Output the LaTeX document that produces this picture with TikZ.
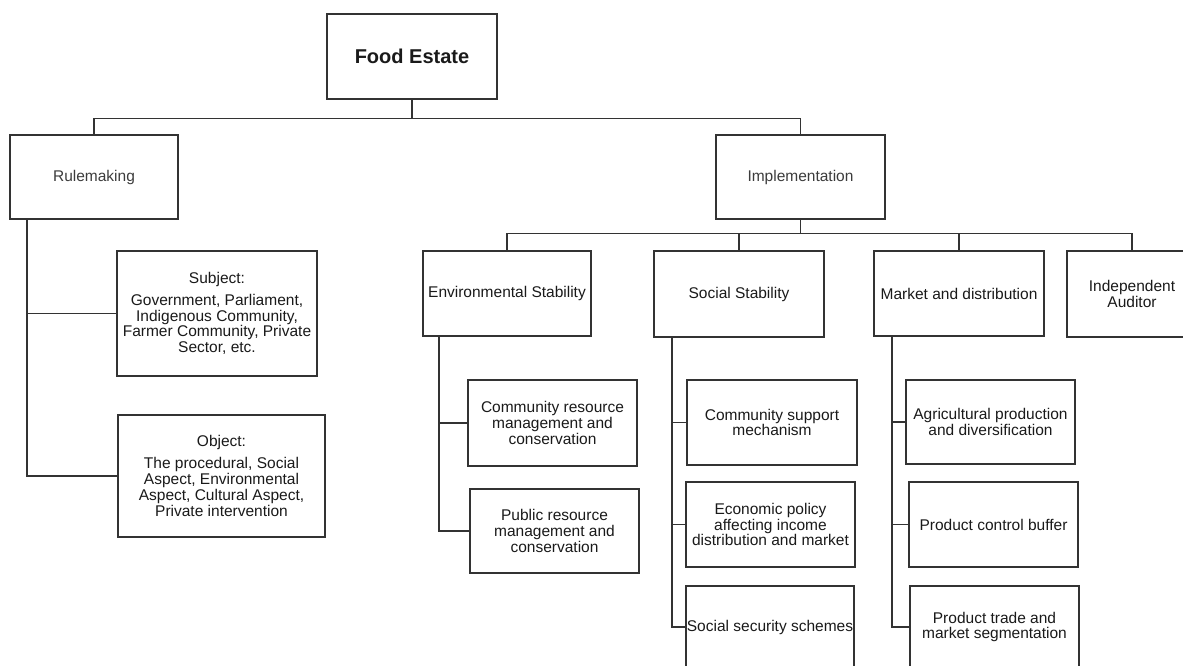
\documentclass[tikz,border=0pt]{standalone}
\usepackage{fontspec}
\setmainfont{Liberation Sans}
\definecolor{linec}{HTML}{333333}
\definecolor{txtc}{HTML}{1A1A1A}
\definecolor{graytxt}{HTML}{3C3C3C}
\begin{document}
\begin{tikzpicture}[x=1pt,y=-1pt,
  box/.style={draw=linec, line width=1.2pt, fill=white, inner sep=0pt, align=center,
    text=txtc, font=\fontsize{15.5}{15.8}\selectfont},
  conn/.style={draw=linec, line width=1.1pt}]
\useasboundingbox (0,0) rectangle (1183,666);
\fill[white] (0,0) rectangle (1183,666);
\begin{scope}
\clip (0,0) rectangle (1183,666);
% level 0
\node[box, minimum width=170pt, minimum height=85pt, font=\fontsize{20}{22}\selectfont\bfseries] (food) at (412,56.5) {Food Estate};
% level 1
\node[box, minimum width=168pt, minimum height=84pt, text=graytxt] (rule) at (94,177) {Rulemaking};
\node[box, minimum width=169pt, minimum height=84pt, text=graytxt] (impl) at (800.5,177) {Implementation};
% rulemaking children
\node[box, minimum width=200pt, minimum height=125pt] (subj) at (217,313.5) {Subject:\\[6pt]Government, Parliament,\\Indigenous Community,\\Farmer Community, Private\\Sector, etc.};
\node[box, minimum width=207pt, minimum height=122pt] (obj) at (221.5,476) {Object:\\[6pt]The procedural, Social\\Aspect, Environmental\\Aspect, Cultural Aspect,\\Private intervention};
% implementation children
\node[box, minimum width=168pt, minimum height=85pt] (env) at (507,293.5) {Environmental Stability};
\node[box, minimum width=170pt, minimum height=86pt] (soc) at (739,294) {Social Stability};
\node[box, minimum width=170pt, minimum height=85pt] (mkt) at (959,293.5) {Market and distribution};
\node[box, minimum width=130pt, minimum height=86pt] (aud) at (1132,294) {Independent\\Auditor};
% environmental children
\node[box, minimum width=169pt, minimum height=86pt] (crm) at (552.5,423) {Community resource\\management and\\conservation};
\node[box, minimum width=169pt, minimum height=84pt] (prm) at (554.5,531) {Public resource\\management and\\conservation};
% social children
\node[box, minimum width=170pt, minimum height=85pt] (csm) at (772,422.5) {Community support\\mechanism};
\node[box, minimum width=169pt, minimum height=85pt] (eco) at (770.5,524.5) {Economic policy\\affecting income\\distribution and market};
\node[box, minimum width=168pt, minimum height=82pt] (sss) at (770,627) {Social security schemes};
% market children
\node[box, minimum width=169pt, minimum height=84pt] (agr) at (990.5,422) {Agricultural production\\and diversification};
\node[box, minimum width=169pt, minimum height=85pt] (pcb) at (993.5,524.5) {Product control buffer};
\node[box, minimum width=169pt, minimum height=82pt] (ptm) at (994.5,627) {Product trade and\\market segmentation};

% connectors
\draw[conn] (food.south) -- ++(0,19) -| (rule.north);
\draw[conn] (food.south) -- ++(0,19) -| (impl.north);
\draw[conn] (impl.south) -- ++(0,14) -| (env.north);
\draw[conn] (impl.south) -- ++(0,14) -| (soc.north);
\draw[conn] (impl.south) -- ++(0,14) -| (mkt.north);
\draw[conn] (impl.south) -- ++(0,14) -| (aud.north);
\coordinate (rt) at (27,219);
\draw[conn] (rt) |- (subj.west);
\draw[conn] (rt) |- (obj.west);
\coordinate (et) at (439,336);
\draw[conn] (et) |- (crm.west);
\draw[conn] (et) |- (prm.west);
\coordinate (st) at (672,337);
\draw[conn] (st) |- (csm.west);
\draw[conn] (st) |- (eco.west);
\draw[conn] (st) |- (sss.west);
\coordinate (mt) at (892,336);
\draw[conn] (mt) |- (agr.west);
\draw[conn] (mt) |- (pcb.west);
\draw[conn] (mt) |- (ptm.west);
\end{scope}
\end{tikzpicture}
\end{document}
